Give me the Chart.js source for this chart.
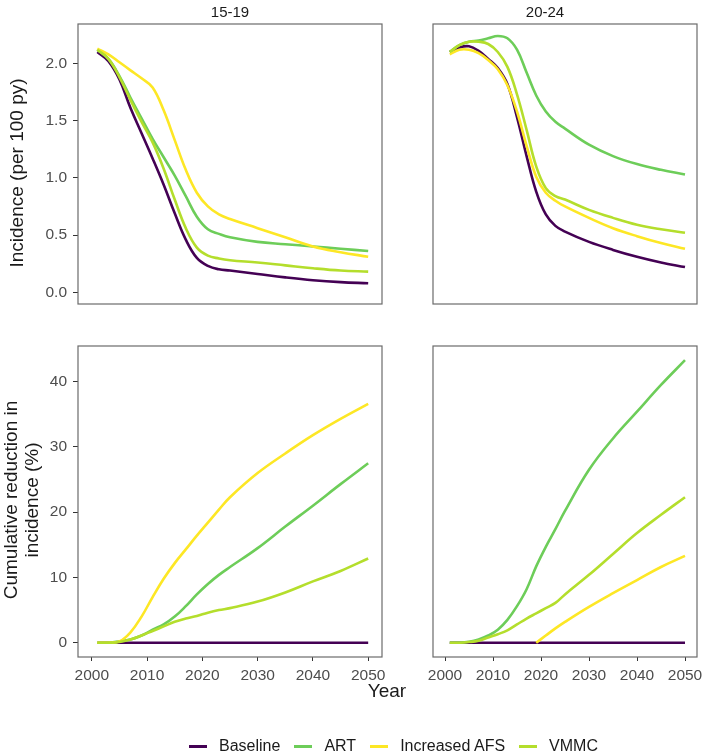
<!DOCTYPE html>
<html>
<head>
<meta charset="utf-8">
<script src="https://cdn.jsdelivr.net/npm/chart.js@4.4.0/dist/chart.umd.min.js"></script>
<style>
  body { margin: 0; width: 704px; height: 754px; background: #fff; position: relative; overflow: hidden;
         font-family: 'Liberation Sans', Arial, sans-serif; }
  canvas { position: absolute; left: 0; top: 0; }
  .txt { position: absolute; white-space: nowrap; color: #1a1a1a; }
  .strip { font-size: 15px; top: 3px; transform: translateX(-50%); }
  .ytitle { font-size: 19px; transform: translate(-50%, -50%) rotate(-90deg); text-align: center; line-height: 21px; }
  #legend { position: absolute; left: 90px; width: 607px; top: 737px; display: flex; justify-content: center;
            font-size: 16px; color: #1a1a1a; }
  .item { display: flex; align-items: center; margin: 0 7px; }
  .sw { width: 18px; height: 3px; margin-right: 12px; }
</style>
</head>
<body>
<canvas id="tl" width="704" height="754"></canvas>
<canvas id="tr" width="704" height="754"></canvas>
<canvas id="bl" width="704" height="754"></canvas>
<canvas id="br" width="704" height="754"></canvas>

<div class="txt strip" style="left:230px">15-19</div>
<div class="txt strip" style="left:545px">20-24</div>
<div class="txt ytitle" style="left:16px; top:173px">Incidence (per 100 py)</div>
<div class="txt ytitle" style="left:21px; top:500px">Cumulative reduction in<br>incidence (%)</div>
<div class="txt" style="left:387px; top:680px; font-size:19px; transform:translateX(-50%)">Year</div>
<div id="legend"></div>

<script>
// data
const years = [2001, 2003, 2005, 2007, 2009, 2011, 2013, 2015, 2017, 2019, 2021, 2023, 2025, 2030, 2035, 2040, 2045, 2050];

const seriesNames = ['Baseline', 'ART', 'Increased AFS', 'VMMC'];
const seriesColors = ['#440154', '#6DCD59', '#FDE725', '#B4DE2C'];

// incidence, age 15-19
const inc1519Baseline = [2.10, 2.02, 1.86, 1.61, 1.39, 1.17, 0.94, 0.69, 0.46, 0.30, 0.23, 0.20, 0.19, 0.16, 0.13, 0.105, 0.088, 0.078];
const inc1519Art      = [2.12, 2.04, 1.89, 1.70, 1.52, 1.34, 1.18, 1.02, 0.84, 0.66, 0.55, 0.51, 0.48, 0.44, 0.42, 0.40, 0.38, 0.36];
const inc1519Afs      = [2.13, 2.08, 2.01, 1.94, 1.87, 1.79, 1.59, 1.33, 1.07, 0.87, 0.75, 0.68, 0.64, 0.56, 0.48, 0.40, 0.35, 0.31];
const inc1519Vmmc     = [2.12, 2.04, 1.88, 1.68, 1.49, 1.31, 1.08, 0.81, 0.56, 0.39, 0.32, 0.295, 0.28, 0.26, 0.235, 0.21, 0.19, 0.18];

// incidence, age 20-24
const inc2024Baseline = [2.10, 2.14, 2.15, 2.11, 2.04, 1.96, 1.82, 1.53, 1.19, 0.88, 0.68, 0.58, 0.53, 0.44, 0.37, 0.31, 0.26, 0.22];
const inc2024Art      = [2.10, 2.16, 2.19, 2.20, 2.22, 2.24, 2.22, 2.12, 1.92, 1.72, 1.58, 1.49, 1.43, 1.29, 1.19, 1.12, 1.07, 1.03];
const inc2024Afs      = [2.08, 2.12, 2.12, 2.09, 2.03, 1.95, 1.81, 1.58, 1.28, 1.01, 0.87, 0.80, 0.75, 0.65, 0.56, 0.49, 0.43, 0.38];
const inc2024Vmmc     = [2.10, 2.16, 2.19, 2.19, 2.17, 2.10, 1.97, 1.73, 1.42, 1.10, 0.91, 0.84, 0.81, 0.72, 0.65, 0.59, 0.55, 0.52];

// cumulative reduction (%), age 15-19
const cum1519Baseline = [0, 0, 0, 0, 0, 0, 0, 0, 0, 0, 0, 0, 0, 0, 0, 0, 0, 0];
const cum1519Art      = [0, 0, 0.2, 0.5, 1.1, 2.0, 2.8, 4.0, 5.6, 7.4, 9.0, 10.4, 11.6, 14.5, 17.8, 21.0, 24.3, 27.5];
const cum1519Afs      = [0, 0, 0.2, 1.6, 4.0, 7.0, 9.8, 12.2, 14.3, 16.4, 18.4, 20.4, 22.3, 26.0, 29.0, 31.8, 34.3, 36.6];
const cum1519Vmmc     = [0, 0, 0.1, 0.5, 1.1, 1.8, 2.5, 3.2, 3.7, 4.1, 4.6, 5.0, 5.3, 6.3, 7.7, 9.4, 11.0, 12.9];

// cumulative reduction (%), age 20-24
const cum2024Baseline = [0, 0, 0, 0, 0, 0, 0, 0, 0, 0, 0, 0, 0, 0, 0, 0, 0, 0];
const cum2024Art      = [0, 0, 0.15, 0.5, 1.1, 2.0, 3.5, 5.6, 8.2, 11.7, 14.7, 17.4, 20.2, 26.5, 31.3, 35.4, 39.5, 43.3];
const cum2024Afs      = [null, null, null, null, null, null, null, null, null, 0, 1.1, 2.2, 3.2, 5.5, 7.6, 9.6, 11.6, 13.3];
const cum2024Vmmc     = [0, 0, 0.1, 0.3, 0.8, 1.3, 1.9, 2.8, 3.7, 4.5, 5.3, 6.1, 7.4, 10.4, 13.6, 16.8, 19.6, 22.3];

const yearTicks = [2000, 2010, 2020, 2030, 2040, 2050];
const incidenceTicks = [0, 0.5, 1.0, 1.5, 2.0];
const cumulativeTicks = [0, 10, 20, 30, 40];

const W = 704, H = 754;

const panelBorder = {
  id: 'panelBorder',
  afterDraw(chart) {
    const a = chart.chartArea, ctx = chart.ctx;
    ctx.save();
    ctx.strokeStyle = '#6b6b6b';
    ctx.lineWidth = 1.2;
    ctx.strokeRect(a.left, a.top, a.right - a.left, a.bottom - a.top);
    ctx.restore();
  }
};

function makePanel(id, data, box, yTicks, yMin, yMax, yFmt, showY, showX) {
  const yWidth = 40, xHeight = 30;
  new Chart(document.getElementById(id), {
    type: 'line',
    data: {
      labels: years,
      datasets: data.map((vals, i) => ({
        label: seriesNames[i],
        data: vals.map((v, j) => ({ x: years[j], y: v })),
        borderColor: seriesColors[i],
        borderWidth: 2.6,
        pointRadius: 0,
        tension: 0.4,
        fill: false,
        order: 4 - i
      }))
    },
    options: {
      responsive: false,
      animation: false,
      events: [],
      layout: {
        padding: {
          left: showY ? box.left - yWidth : box.left,
          right: W - box.right,
          top: box.top,
          bottom: showX ? H - box.bottom - xHeight : H - box.bottom
        }
      },
      plugins: { legend: { display: false }, tooltip: { enabled: false } },
      scales: {
        x: {
          type: 'linear',
          min: 1997.5,
          max: 2052.5,
          display: showX,
          afterBuildTicks: s => { s.ticks = yearTicks.map(v => ({ value: v })); },
          afterFit: s => { s.height = xHeight; s.paddingLeft = 0; s.paddingRight = 0; },
          border: { display: false },
          grid: { drawOnChartArea: false, drawTicks: true, tickLength: 4, tickColor: '#333', tickWidth: 1 },
          ticks: { color: '#4d4d4d', font: { size: 15.5, family: "'Liberation Sans', Arial" }, padding: 5, maxRotation: 0, autoSkip: false,
                   callback: v => String(v) }
        },
        y: {
          type: 'linear',
          min: yMin,
          max: yMax,
          display: showY,
          afterBuildTicks: s => { s.ticks = yTicks.map(v => ({ value: v })); },
          afterFit: s => { s.width = yWidth; s.paddingTop = 0; s.paddingBottom = 0; },
          border: { display: false },
          grid: { drawOnChartArea: false, drawTicks: true, tickLength: 5, tickColor: '#333', tickWidth: 1 },
          ticks: { color: '#4d4d4d', font: { size: 15.5, family: "'Liberation Sans', Arial" }, padding: 6, autoSkip: false,
                   callback: v => yFmt(v) }
        }
      }
    },
    plugins: [panelBorder]
  });
}

const fmtInc = v => v.toFixed(1);
const fmtCum = v => String(v);

makePanel('tl', [inc1519Baseline, inc1519Art, inc1519Afs, inc1519Vmmc],
  { left: 78, right: 382, top: 24, bottom: 334 }, incidenceTicks, -0.103, 2.345, fmtInc, true, false);
makePanel('tr', [inc2024Baseline, inc2024Art, inc2024Afs, inc2024Vmmc],
  { left: 393, right: 697, top: 24, bottom: 334 }, incidenceTicks, -0.103, 2.345, fmtInc, false, false);
makePanel('bl', [cum1519Baseline, cum1519Art, cum1519Afs, cum1519Vmmc],
  { left: 78, right: 382, top: 346, bottom: 657 }, cumulativeTicks, -2.19, 45.47, fmtCum, true, true);
makePanel('br', [cum2024Baseline, cum2024Art, cum2024Afs, cum2024Vmmc],
  { left: 393, right: 697, top: 346, bottom: 657 }, cumulativeTicks, -2.19, 45.47, fmtCum, false, true);

// legend
const legend = document.getElementById('legend');
seriesNames.forEach((name, i) => {
  const item = document.createElement('div');
  item.className = 'item';
  item.innerHTML = '<span class="sw" style="background:' + seriesColors[i] + '"></span><span>' + name + '</span>';
  legend.appendChild(item);
});
</script>
</body>
</html>
